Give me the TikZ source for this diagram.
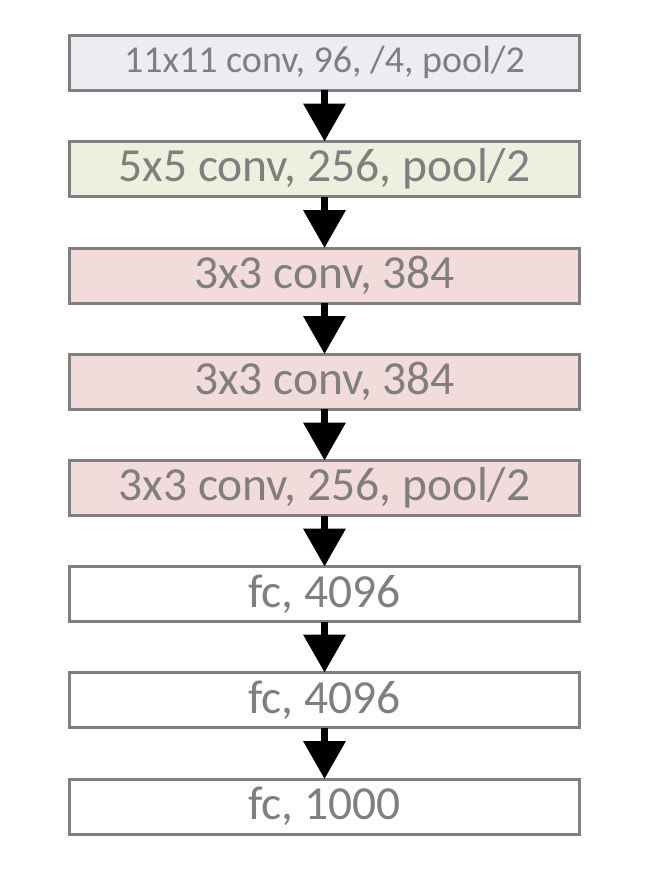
\documentclass[tikz,border=0pt]{standalone}
\usepackage{fontspec}
\setmainfont{Carlito}
\usetikzlibrary{arrows.meta}
\definecolor{edge}{HTML}{808080}
\definecolor{txt}{HTML}{7F7F7F}
\definecolor{lav}{HTML}{EEEBF3}
\definecolor{grn}{HTML}{EBF1DE}
\definecolor{rd}{HTML}{F2DCDB}
\tikzset{
  layer/.style={draw=edge, line width=3pt, minimum width=510pt, minimum height=55pt,
    inner sep=0pt, text=txt, font=\fontsize{47.5}{50}\selectfont},
  small/.style={font=\fontsize{38}{41}\selectfont},
  flow/.style={line width=7pt, -{Triangle[width=41pt,length=38pt]}, shorten <=-1.5pt, shorten >=-1.5pt}
}
\begin{document}
\begin{tikzpicture}[x=1pt,y=-1pt]
\useasboundingbox (0,0) rectangle (666,886);
\node[layer, small, fill=lav] (l1) at (324.5,62.5) {11x11 conv, 96, /4, pool/2};
\node[layer, fill=grn] (l2) at (324.5,169) {5x5 conv, 256, pool/2};
\node[layer, fill=rd] (l3) at (324.5,275.5) {3x3 conv, 384};
\node[layer, fill=rd] (l4) at (324.5,381.5) {3x3 conv, 384};
\node[layer, fill=rd] (l5) at (324.5,488) {3x3 conv, 256, pool/2};
\node[layer, fill=white] (l6) at (324.5,594) {fc, 4096};
\node[layer, fill=white] (l7) at (324.5,700) {fc, 4096};
\node[layer, fill=white] (l8) at (324.5,806.5) {fc, 1000};
\foreach \a/\b in {l1/l2,l2/l3,l3/l4,l4/l5,l5/l6,l6/l7,l7/l8}
  \draw[flow] (\a.south) -- (\b.north);
\end{tikzpicture}
\end{document}
